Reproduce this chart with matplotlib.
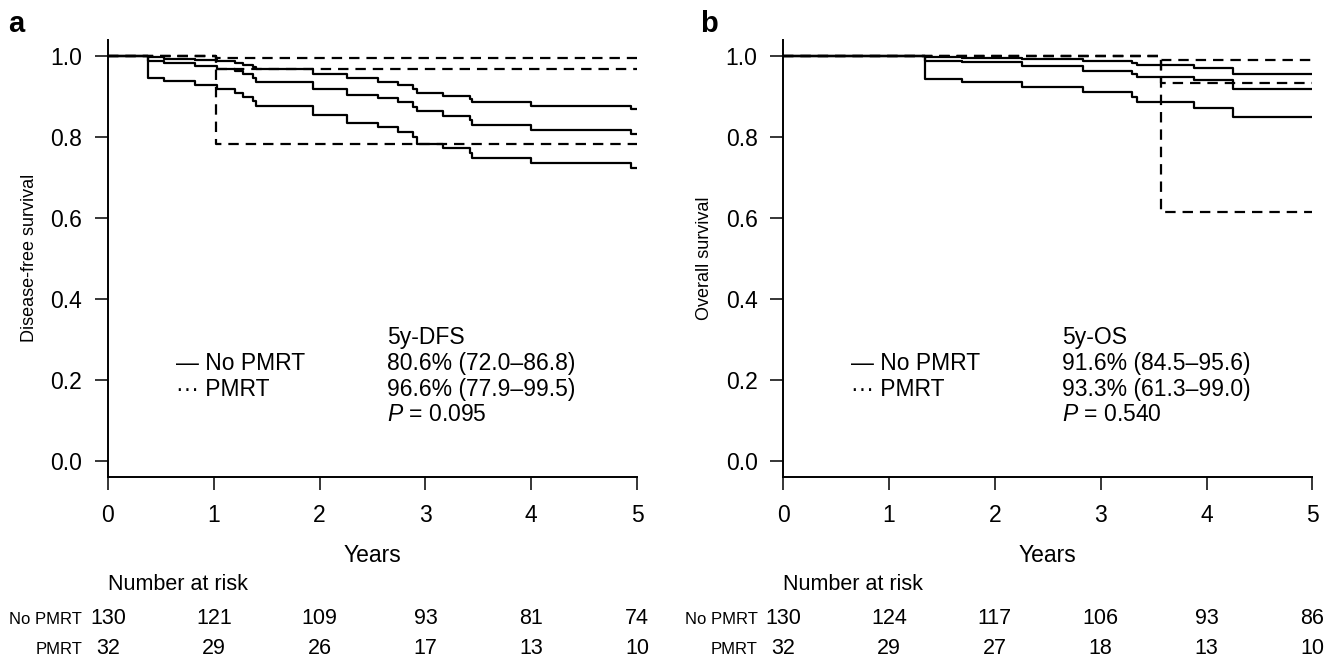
import matplotlib
matplotlib.use('Agg')
import matplotlib.pyplot as plt
from matplotlib import font_manager
from matplotlib.transforms import blended_transform_factory

# x ticks (years)
years = [0, 1, 2, 3, 4, 5]

# --- panel a: disease-free survival ---
dfs_no_t = [0, 0.381, 0.532, 0.822, 1.027, 1.2, 1.279, 1.374, 1.399, 1.935, 2.256,
            2.555, 2.744, 2.886, 2.917, 3.17, 3.42, 3.44, 4.0, 4.94]
dfs_no_est = [1.0, 0.988, 0.981, 0.975, 0.966, 0.961, 0.954, 0.946, 0.936, 0.919, 0.903,
              0.895, 0.886, 0.874, 0.863, 0.851, 0.841, 0.829, 0.817, 0.806]
dfs_no_lo = [1.0, 0.946, 0.9375, 0.928, 0.919, 0.909, 0.899, 0.888, 0.876, 0.854, 0.833,
             0.823, 0.812, 0.800, 0.781, 0.771, 0.759, 0.747, 0.734, 0.722]
dfs_no_hi = [1.0, 0.998, 0.993, 0.990, 0.988, 0.983, 0.977, 0.971, 0.966, 0.956, 0.944,
             0.936, 0.928, 0.919, 0.909, 0.900, 0.892, 0.885, 0.876, 0.868]
dfs_pm_t = [0, 1.021]
dfs_pm_est = [1.0, 0.966]
dfs_pm_lo = [1.0, 0.781]
dfs_pm_hi = [1.0, 0.995]
risk_a_no = [130, 121, 109, 93, 81, 74]
risk_a_pm = [32, 29, 26, 17, 13, 10]

# --- panel b: overall survival ---
os_no_t = [0, 1.339, 1.686, 2.253, 2.830, 3.293, 3.340, 3.882, 4.247]
os_no_est = [1.0, 0.988, 0.984, 0.975, 0.962, 0.956, 0.948, 0.940, 0.917]
os_no_lo = [1.0, 0.942, 0.934, 0.923, 0.911, 0.899, 0.885, 0.870, 0.848]
os_no_hi = [1.0, 0.998, 0.995, 0.991, 0.987, 0.981, 0.977, 0.970, 0.956]
os_pm_t = [0, 3.567]
os_pm_est = [1.0, 0.933]
os_pm_lo = [1.0, 0.613]
os_pm_hi = [1.0, 0.990]
risk_b_no = [130, 124, 117, 106, 93, 86]
risk_b_pm = [32, 29, 27, 18, 13, 10]

labels_a = ['5y-DFS', '80.6% (72.0\u201386.8)', '96.6% (77.9\u201399.5)', '$P$ = 0.095']
labels_b = ['5y-OS', '91.6% (84.5\u201395.6)', '93.3% (61.3\u201399.0)', '$P$ = 0.540']

plt.rcParams['font.family'] = ['Liberation Sans', 'DejaVu Sans']
plt.rcParams['mathtext.fontset'] = 'custom'
plt.rcParams['mathtext.it'] = 'Liberation Sans:italic'
plt.rcParams['mathtext.rm'] = 'Liberation Sans'
plt.rcParams['lines.scale_dashes'] = False

names = [f.name for f in font_manager.fontManager.ttflist]
if 'Liberation Sans Narrow' in names:
    narrow, ylab_size = 'Liberation Sans Narrow', 15.5
else:
    narrow, ylab_size = 'Liberation Sans', 13

W, H = 1338, 661
fig = plt.figure(figsize=(W / 100, H / 100), dpi=100)


def ext(t, s):
    # carry the last value on to 5 years
    return list(t) + [5.0], list(s) + [s[-1]]


def draw_panel(ax, t_no, est, lo, hi, t_pm, pest, plo, phi, ylabel, texts, r_no, r_pm):
    for s in (est, lo, hi):
        x, y = ext(t_no, s)
        ax.step(x, y, where='post', color='black', lw=1.6)
    for s in (pest, plo, phi):
        x, y = ext(t_pm, s)
        ax.step(x, y, where='post', color='black', lw=1.6, dashes=(7.5, 5))

    ax.set_xlim(0, 5)
    ax.set_ylim(-0.04, 1.04)
    ax.set_xticks(years)
    ax.set_yticks([0, 0.2, 0.4, 0.6, 0.8, 1.0])
    ax.set_yticklabels(['0.0', '0.2', '0.4', '0.6', '0.8', '1.0'])
    ax.spines['top'].set_visible(False)
    ax.spines['right'].set_visible(False)
    for sp in ('left', 'bottom'):
        ax.spines[sp].set_linewidth(1.4)
    ax.tick_params(direction='out', length=9.5, width=1.1, labelsize=16.5)
    ax.tick_params(axis='x', pad=10)
    ax.tick_params(axis='y', pad=9)
    ax.set_ylabel(ylabel, family=narrow, fontsize=ylab_size)
    ax.yaxis.set_label_coords(-0.132, 0.5)

    # annotation block
    tx = 2.637
    for txt, yy in zip(texts, [0.305, 0.241, 0.175, 0.114]):
        ax.text(tx, yy, txt, fontsize=16.5, ha='left', va='center')
    ax.text(0.643, 0.241, '\u2014 No PMRT', fontsize=16.5, ha='left', va='center')
    ax.text(0.643, 0.175, '\u00b7\u00b7\u00b7 PMRT', fontsize=16.5, ha='left', va='center')

    # x label and number-at-risk table, y in figure pixels
    tr = blended_transform_factory(ax.transData, fig.transFigure)
    ax.text(2.5, 1 - 555 / H, 'Years', transform=tr, fontsize=16.5, ha='center', va='center')
    ax.text(0, 1 - 585 / H, 'Number at risk', transform=tr, fontsize=15.5, ha='left', va='center')
    for yr, a, b in zip(years, r_no, r_pm):
        ax.text(yr, 1 - 618 / H, str(a), transform=tr, fontsize=15.5, ha='center', va='center')
        ax.text(yr, 1 - 648 / H, str(b), transform=tr, fontsize=15.5, ha='center', va='center')
    ax.text(-0.245, 1 - 620 / H, 'No PMRT', transform=tr, fontsize=12, ha='right', va='center')
    ax.text(-0.245, 1 - 650 / H, 'PMRT', transform=tr, fontsize=12, ha='right', va='center')


ax_a = fig.add_axes([108 / W, 1 - 476.9 / H, 529 / W, 437.4 / H])
ax_b = fig.add_axes([783.3 / W, 1 - 476.9 / H, 529 / W, 437.4 / H])

draw_panel(ax_a, dfs_no_t, dfs_no_est, dfs_no_lo, dfs_no_hi,
           dfs_pm_t, dfs_pm_est, dfs_pm_lo, dfs_pm_hi,
           'Disease-free survival', labels_a, risk_a_no, risk_a_pm)
draw_panel(ax_b, os_no_t, os_no_est, os_no_lo, os_no_hi,
           os_pm_t, os_pm_est, os_pm_lo, os_pm_hi,
           'Overall survival', labels_b, risk_b_no, risk_b_pm)

fig.text(8 / W, 1 - 32 / H, 'a', fontsize=21, fontweight='bold', ha='left', va='baseline')
fig.text(700 / W, 1 - 32 / H, 'b', fontsize=21, fontweight='bold', ha='left', va='baseline')

fig.savefig('out.png', dpi=100)
